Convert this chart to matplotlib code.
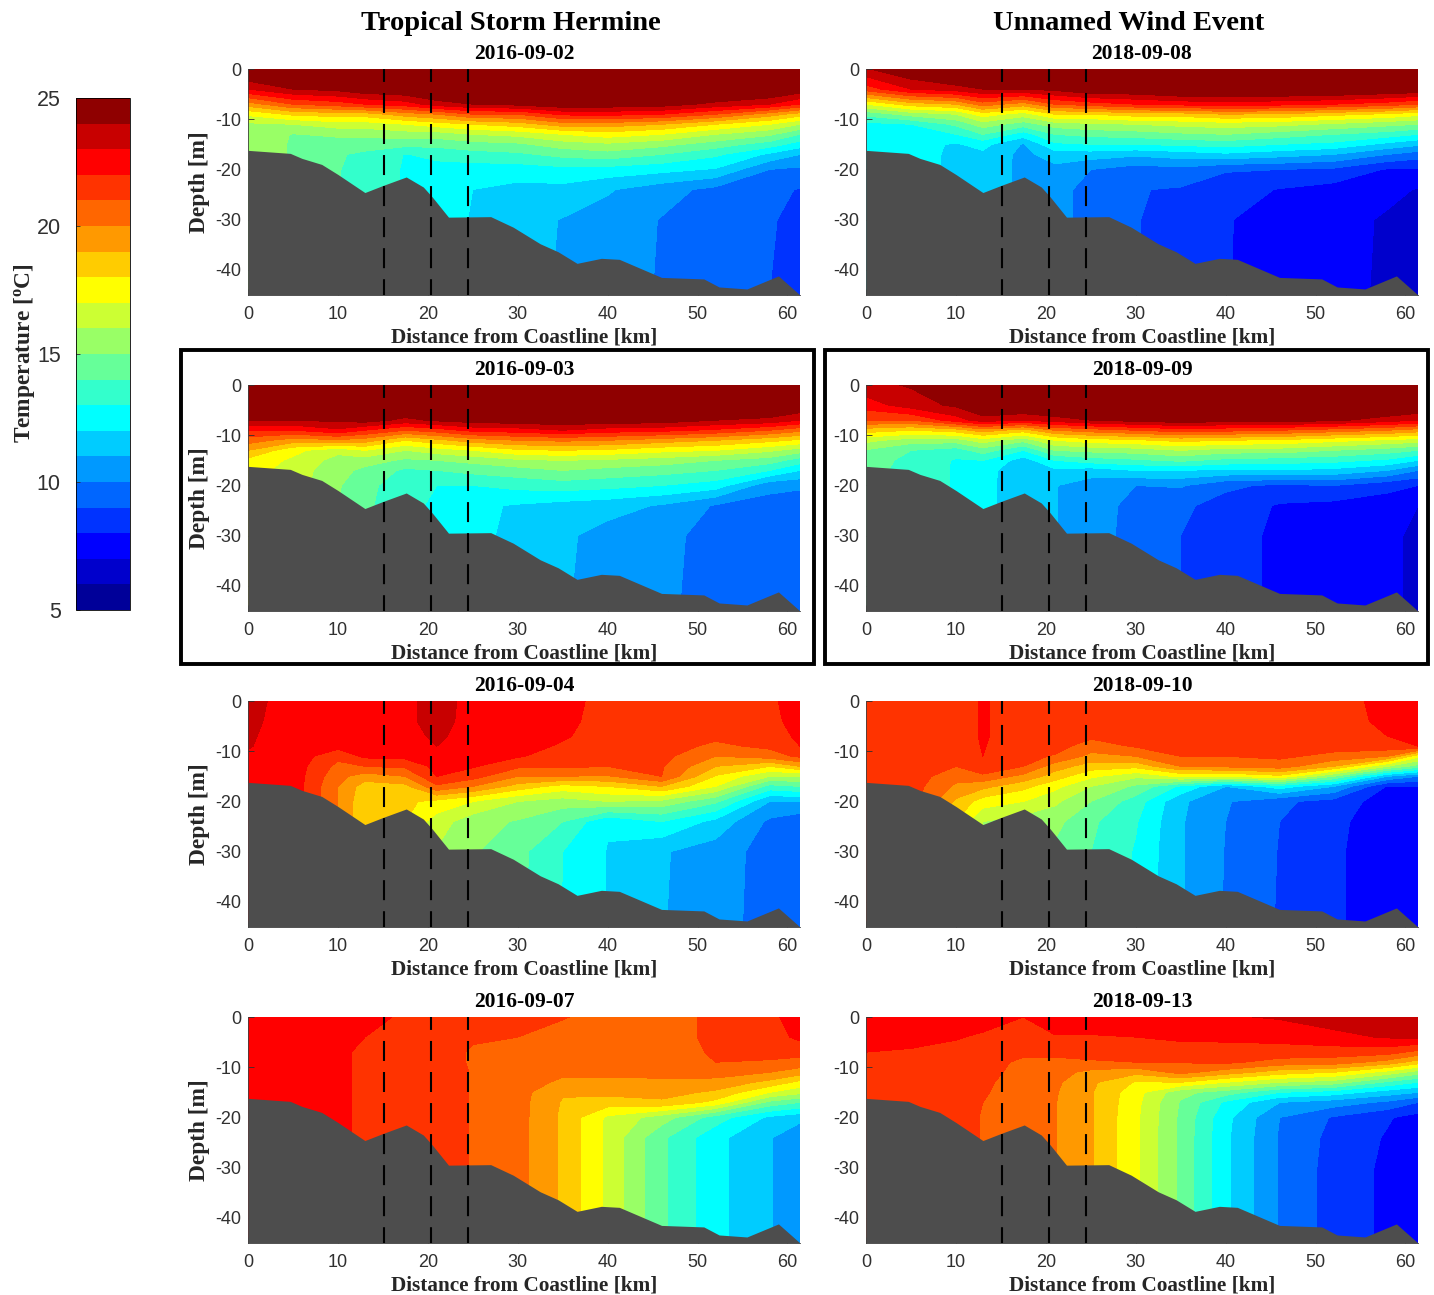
import numpy as np
import matplotlib
matplotlib.use('Agg')
import matplotlib.pyplot as plt
from matplotlib.colors import ListedColormap, BoundaryNorm
from matplotlib.cm import ScalarMappable
from matplotlib.patches import Rectangle

plt.rcParams['axes.unicode_minus'] = False

# distancia desde la costa (km) y profundidad (m) de la malla de temperatura
stations = [0, 5, 10, 13, 17.5, 21, 25, 30, 35, 40, 46, 52, 58, 61.4]
depths = [0, -4, -7, -9, -11, -13, -15, -17, -20, -24, -30, -45]

# fondo marino
bottom_x = [0, 4.7, 6, 8.2, 10, 13, 15, 17.6, 19.5, 20.5, 22.3, 27, 29.5, 32.5, 34.5, 36.6,
            39.3, 41.3, 46, 50.7, 52.4, 55.5, 59, 61.4]
bottom_z = [-16.2, -16.8, -17.8, -19, -21, -24.6, -23.2, -21.5, -23.5, -25.5, -29.5, -29.4,
            -31.5, -34.8, -36.4, -38.7, -37.7, -37.9, -41.5, -41.8, -43.4, -43.8, -41.2, -45]

front_lines = [15.1, 20.3, 24.5]
temp_levels = [5, 6, 7, 8, 9, 10, 11, 12, 13, 14, 15, 16, 17, 18, 19, 20, 21, 22, 23, 24, 25]
band_colors = ['#000099', '#0000CC', '#0000FF', '#0033FF', '#0066FF', '#0099FF', '#00CCFF',
               '#00FFFF', '#33FFCC', '#66FF99', '#99FF66', '#CCFF33', '#FFFF00', '#FFCC00',
               '#FF9900', '#FF6600', '#FF3300', '#FF0000', '#C80000', '#8F0000']

# cada fila es un perfil de temperatura en una estacion
t_160902 = [
    [25.5, 23.0, 19.5, 17.2, 15.8, 15.6, 15.6, 15.6, 15.6, 15.6, 15.6, 15.6],
    [26.0, 24.0, 21.0, 18.2, 16.0, 14.95, 14.9, 14.9, 14.9, 14.9, 14.9, 14.9],
    [26.0, 24.3, 21.5, 18.5, 16.5, 15.2, 14.5, 14.1, 14.05, 14.05, 14.05, 14.05],
    [26.0, 24.8, 22.0, 18.5, 16.5, 15.3, 14.4, 13.8, 13.6, 13.6, 13.6, 13.6],
    [26.0, 25.0, 22.5, 19.5, 17.0, 15.5, 14.3, 12.95, 12.9, 12.9, 12.9, 12.9],
    [26.0, 25.5, 23.5, 20.0, 17.5, 15.5, 14.3, 13.3, 12.6, 12.3, 12.3, 12.3],
    [26.0, 25.6, 24.0, 21.0, 18.0, 16.0, 14.6, 13.6, 12.5, 12.0, 11.95, 11.95],
    [26.0, 25.6, 24.3, 21.0, 18.5, 16.3, 14.8, 13.8, 12.5, 11.7, 11.4, 11.3],
    [26.0, 25.8, 24.8, 22.2, 19.5, 17.0, 15.5, 14.3, 12.7, 11.7, 10.95, 10.9],
    [26.0, 25.8, 24.7, 22.3, 19.5, 17.5, 15.8, 14.6, 12.6, 11.1, 10.6, 10.5],
    [26.0, 25.8, 24.5, 22.0, 19.0, 17.0, 15.3, 14.0, 12.3, 10.4, 9.95, 9.9],
    [26.0, 25.7, 23.7, 21.0, 18.0, 16.0, 14.5, 13.2, 11.9, 9.7, 9.4, 9.3],
    [26.0, 25.4, 23.0, 19.5, 17.0, 15.2, 13.5, 11.8, 10.0, 9.2, 9.1, 9.0],
    [26.0, 24.7, 22.0, 18.5, 16.0, 14.0, 12.5, 11.0, 9.8, 8.95, 8.7, 8.5],
]
t_180908 = [
    [23.9, 21.5, 17.0, 14.3, 12.7, 12.5, 12.3, 12.2, 12.2, 12.2, 12.2, 12.2],
    [25.0, 23.0, 18.5, 15.4, 13.0, 12.4, 12.3, 12.2, 12.2, 12.2, 12.2, 12.2],
    [26.0, 23.5, 19.0, 16.0, 14.2, 13.0, 11.9, 11.9, 11.9, 11.9, 11.9, 11.9],
    [26.0, 24.0, 20.5, 17.5, 15.5, 14.0, 12.3, 11.8, 11.7, 11.7, 11.7, 11.7],
    [26.0, 24.0, 19.5, 16.5, 14.5, 12.5, 10.9, 10.7, 10.7, 10.7, 10.7, 10.7],
    [26.0, 24.3, 21.0, 18.0, 15.5, 14.0, 12.8, 11.5, 10.7, 10.4, 10.4, 10.4],
    [26.0, 25.0, 21.5, 18.0, 15.8, 14.3, 13.0, 11.5, 10.0, 9.6, 9.6, 9.6],
    [26.0, 25.0, 22.0, 18.5, 16.0, 14.5, 13.0, 11.2, 9.5, 9.05, 9.05, 9.05],
    [26.0, 25.5, 22.3, 18.5, 16.3, 14.8, 13.2, 11.5, 9.7, 8.9, 8.6, 8.6],
    [26.0, 25.6, 22.5, 19.0, 16.5, 15.0, 13.4, 11.8, 9.1, 8.4, 8.05, 8.05],
    [26.0, 25.5, 22.3, 18.8, 16.3, 14.5, 13.0, 11.4, 9.0, 7.95, 7.7, 7.6],
    [26.0, 25.4, 22.0, 18.3, 15.8, 14.0, 12.7, 11.0, 8.8, 7.6, 7.3, 7.2],
    [26.0, 25.1, 21.5, 17.8, 15.3, 13.5, 11.7, 10.0, 7.9, 7.2, 6.9, 6.9],
    [26.0, 24.9, 21.0, 17.3, 15.0, 13.0, 11.2, 9.5, 7.9, 6.95, 6.5, 6.5],
]
t_160903 = [
    [25.5, 25.2, 24.0, 22.0, 20.5, 19.0, 17.7, 17.5, 17.5, 17.5, 17.5, 17.5],
    [26.0, 25.3, 24.0, 22.0, 19.5, 17.3, 16.8, 16.5, 16.5, 16.5, 16.5, 16.5],
    [26.0, 25.5, 24.2, 22.8, 19.8, 16.3, 15.6, 15.4, 15.1, 15.0, 15.0, 15.0],
    [26.0, 25.6, 24.5, 22.0, 19.5, 17.0, 15.5, 14.7, 14.3, 14.2, 14.2, 14.2],
    [26.0, 25.4, 23.7, 21.0, 18.0, 16.0, 14.8, 13.8, 13.4, 13.3, 13.3, 13.3],
    [26.0, 25.6, 24.2, 21.5, 18.7, 16.5, 15.0, 14.0, 13.0, 12.8, 12.7, 12.7],
    [26.0, 25.7, 24.5, 22.3, 19.5, 17.0, 15.3, 14.3, 13.0, 12.2, 12.1, 12.1],
    [26.0, 25.8, 24.7, 22.5, 20.0, 17.8, 15.8, 14.6, 13.3, 11.9, 11.9, 11.9],
    [26.0, 25.8, 24.8, 23.0, 20.2, 18.0, 16.0, 15.0, 13.5, 11.6, 11.2, 11.1],
    [26.0, 25.8, 24.7, 22.5, 20.0, 17.8, 15.8, 14.7, 13.3, 11.4, 10.6, 10.5],
    [26.0, 25.7, 24.6, 22.3, 19.5, 17.3, 15.5, 14.4, 13.0, 10.9, 10.2, 10.15],
    [26.0, 25.6, 24.0, 21.8, 19.0, 17.0, 15.0, 14.0, 12.5, 9.9, 9.75, 9.7],
    [26.0, 25.4, 23.7, 21.0, 18.3, 16.2, 14.5, 13.0, 10.3, 9.6, 9.5, 9.4],
    [26.0, 25.0, 23.0, 20.3, 17.8, 15.5, 13.5, 12.0, 10.2, 9.3, 9.2, 9.0],
]
t_180909 = [
    [23.7, 22.5, 21.0, 18.5, 16.3, 14.9, 14.5, 14.4, 14.4, 14.4, 14.4, 14.4],
    [24.1, 23.5, 21.0, 18.0, 15.5, 14.0, 13.7, 13.6, 13.6, 13.6, 13.6, 13.6],
    [25.5, 24.2, 22.5, 18.5, 15.5, 13.5, 12.9, 12.9, 12.9, 12.9, 12.9, 12.9],
    [26.0, 25.3, 23.5, 19.5, 16.5, 14.5, 13.0, 12.4, 12.35, 12.35, 12.35, 12.35],
    [26.0, 25.3, 23.0, 18.5, 15.3, 13.0, 11.5, 11.3, 11.3, 11.3, 11.3, 11.3],
    [26.0, 25.5, 23.5, 20.0, 17.0, 15.0, 13.0, 11.8, 11.05, 11.05, 11.05, 11.05],
    [26.0, 25.5, 24.0, 20.5, 17.5, 15.3, 13.5, 11.5, 10.5, 10.3, 10.3, 10.3],
    [26.0, 25.5, 24.4, 21.0, 17.8, 15.5, 13.8, 12.0, 10.0, 9.8, 9.75, 9.75],
    [26.0, 25.6, 24.7, 21.5, 18.3, 16.0, 14.2, 12.0, 10.1, 9.2, 9.0, 9.0],
    [26.0, 25.6, 24.5, 21.3, 18.0, 15.5, 13.7, 11.8, 9.2, 8.6, 8.3, 8.3],
    [26.0, 25.6, 24.5, 21.0, 17.8, 15.5, 13.5, 11.9, 8.8, 7.9, 7.85, 7.85],
    [26.0, 25.5, 24.2, 20.5, 17.3, 15.0, 13.3, 11.7, 9.0, 7.7, 7.5, 7.5],
    [26.0, 25.4, 23.5, 20.0, 16.8, 14.5, 12.8, 11.0, 8.3, 7.5, 7.3, 7.3],
    [26.0, 25.2, 23.0, 19.5, 16.5, 14.0, 12.0, 10.0, 8.0, 7.0, 6.7, 6.7],
]
t_160904 = [
    [23.3, 23.2, 23.1, 23.05, 22.9, 22.5, 22.3, 22.2, 22.2, 22.2, 22.2, 22.2],
    [22.6, 22.6, 22.6, 22.6, 22.6, 22.6, 22.6, 22.6, 22.6, 22.6, 22.6, 22.6],
    [22.6, 22.6, 22.5, 22.3, 21.3, 20.7, 20.3, 20.0, 20.0, 20.0, 20.0, 20.0],
    [22.7, 22.6, 22.5, 22.4, 22.2, 21.0, 19.5, 18.5, 18.2, 18.2, 18.2, 18.2],
    [22.7, 22.7, 22.6, 22.5, 22.3, 21.2, 20.0, 18.7, 18.2, 18.0, 18.0, 18.0],
    [23.5, 23.5, 23.2, 23.0, 22.6, 22.3, 22.0, 20.8, 17.7, 16.5, 15.9, 15.9],
    [22.6, 22.5, 22.5, 22.4, 22.3, 22.1, 21.4, 20.0, 17.0, 15.4, 15.1, 15.0],
    [22.5, 22.5, 22.4, 22.3, 22.1, 21.2, 20.0, 18.6, 16.0, 14.9, 14.3, 14.3],
    [22.2, 22.2, 22.1, 21.9, 21.5, 21.2, 20.0, 17.6, 15.5, 14.0, 13.0, 12.95],
    [21.8, 21.7, 21.6, 21.5, 21.4, 21.0, 19.9, 18.0, 16.0, 12.1, 11.95, 11.95],
    [21.5, 21.5, 21.5, 21.4, 21.3, 21.1, 21.0, 19.0, 15.7, 13.0, 11.1, 11.05],
    [21.5, 21.3, 21.2, 20.8, 20.0, 19.0, 17.9, 17.0, 14.2, 11.7, 10.5, 10.5],
    [21.8, 21.7, 21.5, 21.2, 20.5, 18.0, 16.0, 13.6, 11.0, 9.8, 9.6, 9.5],
    [22.5, 22.4, 22.2, 22.0, 21.2, 19.0, 16.0, 14.0, 11.0, 9.3, 9.2, 9.1],
]
t_180910 = [
    [21.8, 21.8, 21.8, 21.7, 21.7, 21.7, 21.6, 21.6, 21.6, 21.6, 21.6, 21.6],
    [21.5, 21.5, 21.5, 21.5, 21.5, 21.5, 21.5, 21.5, 21.5, 21.5, 21.5, 21.5],
    [21.5, 21.5, 21.5, 21.5, 21.4, 21.0, 20.4, 19.8, 18.8, 18.0, 18.0, 18.0],
    [22.1, 22.1, 22.1, 22.05, 22.0, 22.0, 20.7, 19.3, 17.5, 16.0, 15.8, 15.8],
    [21.5, 21.5, 21.5, 21.4, 21.3, 21.0, 19.7, 18.3, 17.0, 15.5, 15.5, 15.5],
    [21.6, 21.6, 21.5, 21.4, 20.9, 19.5, 18.5, 17.3, 16.2, 15.3, 14.8, 14.8],
    [21.7, 21.6, 21.2, 20.5, 19.7, 18.5, 17.2, 16.0, 15.0, 14.2, 14.0, 13.9],
    [21.5, 21.5, 21.4, 21.1, 20.0, 18.3, 16.2, 14.8, 13.5, 13.1, 12.9, 12.8],
    [21.5, 21.5, 21.5, 21.4, 21.0, 20.0, 17.2, 12.8, 11.2, 11.1, 11.1, 11.1],
    [21.6, 21.5, 21.5, 21.4, 21.0, 20.2, 17.0, 11.0, 10.1, 10.0, 9.95, 9.9],
    [21.6, 21.6, 21.5, 21.4, 21.2, 20.5, 17.7, 12.5, 9.2, 9.0, 8.95, 8.9],
    [21.6, 21.6, 21.6, 21.4, 20.7, 19.0, 15.0, 11.0, 8.6, 8.3, 8.2, 8.2],
    [22.3, 22.2, 22.0, 21.6, 20.0, 16.0, 11.0, 7.9, 7.5, 7.3, 7.3, 7.3],
    [22.3, 22.3, 22.2, 22.0, 17.3, 14.5, 10.0, 8.0, 7.6, 7.3, 7.2, 7.1],
]
t_160907 = [
    [22.6, 22.6, 22.6, 22.6, 22.6, 22.6, 22.6, 22.6, 22.6, 22.6, 22.6, 22.6],
    [22.6, 22.6, 22.6, 22.6, 22.6, 22.6, 22.6, 22.6, 22.6, 22.6, 22.6, 22.6],
    [22.3, 22.3, 22.2, 22.2, 22.2, 22.2, 22.2, 22.2, 22.2, 22.2, 22.2, 22.2],
    [22.2, 22.0, 21.8, 21.8, 21.8, 21.8, 21.8, 21.8, 21.8, 21.8, 21.8, 21.8],
    [21.9, 21.6, 21.5, 21.5, 21.5, 21.5, 21.5, 21.5, 21.5, 21.5, 21.5, 21.5],
    [21.4, 21.4, 21.4, 21.4, 21.4, 21.4, 21.4, 21.4, 21.4, 21.4, 21.4, 21.4],
    [21.3, 21.1, 20.9, 20.9, 20.95, 20.95, 20.95, 20.95, 20.95, 20.95, 20.95, 20.95],
    [21.3, 21.0, 20.8, 20.7, 20.6, 20.5, 20.4, 20.4, 20.4, 20.4, 20.4, 20.4],
    [21.05, 20.7, 20.6, 20.5, 20.2, 19.8, 19.1, 18.9, 18.8, 18.8, 18.8, 18.8],
    [20.7, 20.6, 20.5, 20.5, 20.2, 19.8, 19.3, 18.5, 16.8, 16.75, 16.75, 16.75],
    [20.6, 20.6, 20.6, 20.5, 20.3, 19.8, 19.4, 18.8, 15.5, 14.2, 14.2, 14.2],
    [21.2, 21.2, 21.1, 21.0, 20.4, 19.7, 18.8, 17.7, 13.5, 12.3, 12.3, 12.3],
    [21.8, 21.6, 21.3, 20.9, 20.0, 18.7, 17.0, 14.7, 11.8, 11.1, 11.1, 11.1],
    [22.4, 22.2, 21.4, 20.6, 19.5, 17.7, 16.3, 14.0, 11.3, 10.2, 10.2, 10.2],
]
t_180913 = [
    [22.8, 22.5, 22.0, 21.8, 21.7, 21.6, 21.6, 21.6, 21.6, 21.6, 21.6, 21.6],
    [22.9, 22.3, 21.9, 21.7, 21.5, 21.5, 21.5, 21.5, 21.5, 21.5, 21.5, 21.5],
    [22.9, 22.1, 21.6, 21.5, 21.4, 21.4, 21.3, 21.3, 21.3, 21.3, 21.3, 21.3],
    [22.6, 21.8, 21.5, 21.4, 21.3, 21.2, 21.1, 21.0, 20.95, 20.95, 20.95, 20.95],
    [22.0, 21.7, 21.2, 20.8, 20.7, 20.5, 20.5, 20.5, 20.5, 20.5, 20.5, 20.5],
    [22.7, 21.9, 21.2, 20.8, 20.4, 20.2, 20.1, 20.05, 20.05, 20.05, 20.05, 20.05],
    [22.7, 21.9, 21.3, 20.9, 19.7, 19.2, 19.1, 19.1, 19.1, 19.1, 19.1, 19.1],
    [22.6, 22.0, 21.5, 21.0, 19.3, 17.9, 17.4, 17.3, 17.2, 17.2, 17.2, 17.2],
    [22.7, 22.2, 21.5, 21.05, 20.3, 18.0, 15.3, 14.9, 14.8, 14.75, 14.75, 14.75],
    [22.9, 22.2, 21.6, 21.2, 19.5, 17.0, 14.5, 12.8, 12.3, 12.2, 12.2, 12.2],
    [23.1, 22.3, 21.6, 20.6, 18.5, 16.0, 13.0, 11.0, 10.0, 9.9, 9.9, 9.9],
    [23.5, 22.7, 21.5, 20.5, 18.0, 15.5, 12.5, 10.5, 8.9, 8.7, 8.6, 8.6],
    [23.8, 23.1, 21.4, 19.6, 16.6, 13.8, 11.5, 9.8, 8.1, 7.9, 7.8, 7.8],
    [23.9, 23.2, 20.7, 18.5, 15.5, 13.0, 11.0, 9.0, 7.6, 7.5, 7.5, 7.5],
]

panels = [
    ('2016-09-02', t_160902, 248, 69), ('2018-09-08', t_180908, 866, 69),
    ('2016-09-03', t_160903, 248, 385), ('2018-09-09', t_180909, 866, 385),
    ('2016-09-04', t_160904, 248, 701), ('2018-09-10', t_180910, 866, 701),
    ('2016-09-07', t_160907, 248, 1017), ('2018-09-13', t_180913, 866, 1017),
]

W, H = 1434, 1295
SERIF = 'Liberation Serif'
TICK = 'Liberation Sans'
TICK_COLOR = '#303030'

cmap = ListedColormap(band_colors)
cmap.set_over(band_colors[-1])
cmap.set_under(band_colors[0])
norm = BoundaryNorm(temp_levels, cmap.N)


def px_axes(fig, left, top, width, height):
    return fig.add_axes([left / W, 1 - (top + height) / H, width / W, height / H])


fig = plt.figure(figsize=(W / 100, H / 100), dpi=100)

for date, temps, left, top in panels:
    ax = px_axes(fig, left, top, 552, 226)
    ax.contourf(stations, depths, np.array(temps).T, levels=temp_levels, cmap=cmap, norm=norm, extend='both')
    ax.fill_between(bottom_x, bottom_z, -45, color='#4D4D4D', lw=0, zorder=3)
    for x in front_lines:
        ax.plot([x, x], [0, -45], color='black', lw=1.5, ls=(3.4, (9.6, 5.3)), zorder=4)
    ax.set_xlim(0, 61.4)
    ax.set_ylim(-45, 0)
    ax.set_xticks(range(0, 61, 10))
    ax.set_yticks([0, -10, -20, -30, -40])
    ax.tick_params(direction='in', length=4, width=0.6, colors=TICK_COLOR, labelsize=13, pad=5)
    ax.tick_params(axis='x', pad=8)
    for lab in ax.get_xticklabels() + ax.get_yticklabels():
        lab.set_family(TICK)
    for side in ['top', 'right']:
        ax.spines[side].set_visible(False)
    for side in ['left', 'bottom']:
        ax.spines[side].set_linewidth(0.6)
        ax.spines[side].set_color('#404040')
    ax.set_title(date, family=SERIF, weight='bold', fontsize=15.5, pad=7)
    ax.set_xlabel('Distance from Coastline [km]', family=SERIF, weight='bold', fontsize=15.3,
                  color='#262626', labelpad=3.5)
    if left == 248:
        ax.set_ylabel('Depth [m]', family=SERIF, weight='bold', fontsize=16.8, color='#262626', labelpad=4)

fig.text(511 / W, 1 - 23 / H, 'Tropical Storm Hermine', family=SERIF, weight='bold', fontsize=20.5,
         ha='center', va='center')
fig.text(1129 / W, 1 - 23 / H, 'Unnamed Wind Event', family=SERIF, weight='bold', fontsize=20.5,
         ha='center', va='center')

# recuadros de las dos fechas destacadas
for x0, x1 in [(181, 814), (825, 1428)]:
    fig.add_artist(Rectangle((x0 / W, 1 - 664 / H), (x1 - x0) / W, 314 / H, transform=fig.transFigure,
                             fill=False, edgecolor='black', lw=2.8))

# barra de color
cax = px_axes(fig, 76, 98, 54, 512)
cb = fig.colorbar(ScalarMappable(norm=norm, cmap=cmap), cax=cax, ticks=[5, 10, 15, 20, 25], spacing='proportional')
cb.outline.set_linewidth(0.6)
cax.minorticks_off()
cax.yaxis.set_ticks_position('left')
cax.tick_params(direction='in', length=3, width=0.6, colors=TICK_COLOR, labelsize=15.5, pad=11)
for lab in cax.get_yticklabels():
    lab.set_family(TICK)
fig.text(25 / W, 1 - 353 / H, r'Temperature [$\mathregular{^o}$C]', family=SERIF, weight='bold', fontsize=16.8,
         color='#262626', rotation=90, ha='center', va='center')

fig.savefig('out.png', dpi=100)
